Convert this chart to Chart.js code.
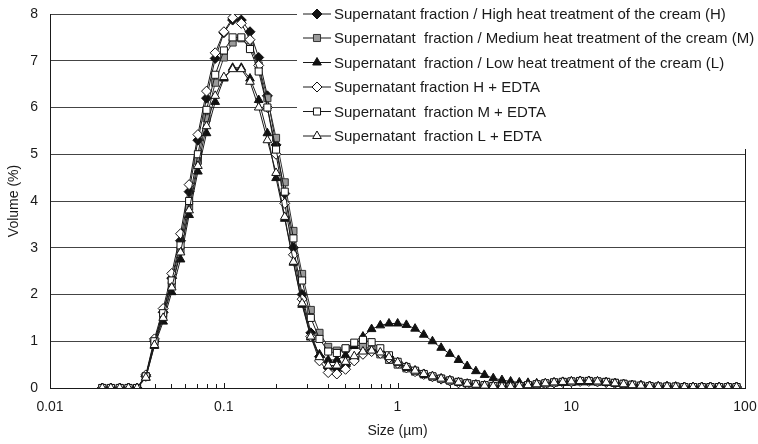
<!DOCTYPE html>
<html>
<head>
<meta charset="utf-8">
<script src="https://cdn.jsdelivr.net/npm/chart.js@4.4.1/dist/chart.umd.min.js"></script>
<style>
  html, body { margin: 0; padding: 0; background: #fff; }
  #wrap { width: 758px; height: 444px; }
</style>
</head>
<body>
<div id="wrap"><canvas id="psd" width="758" height="444"></canvas></div>
<script>
// size classes (µm)
const sizes = [
  0.020, 0.0224, 0.0252, 0.0283, 0.0317, 0.0356, 0.0399, 0.0448, 0.0502, 0.0564,
  0.0632, 0.0710, 0.0796, 0.0893, 0.1002, 0.1125, 0.1262, 0.1416, 0.1589, 0.1783,
  0.200, 0.2244, 0.2518, 0.2825, 0.3170, 0.3557, 0.3991, 0.4477, 0.5024, 0.5637,
  0.6325, 0.7096, 0.7962, 0.8934, 1.002, 1.125, 1.262, 1.416, 1.589, 1.783,
  2.000, 2.244, 2.518, 2.825, 3.170, 3.557, 3.991, 4.477, 5.024, 5.637,
  6.325, 7.096, 7.962, 8.934, 10.02, 11.25, 12.62, 14.16, 15.89, 17.83,
  20.00, 22.44, 25.18, 28.25, 31.70, 35.57, 39.91, 44.77, 50.24, 56.37,
  63.25, 70.96, 79.62, 89.34
];

const names = [
  "Supernatant fraction / High heat treatment of the cream (H)",
  "Supernatant  fraction / Medium heat treatment of the cream (M)",
  "Supernatant  fraction / Low heat treatment of the cream (L)",
  "Supernatant fraction H + EDTA",
  "Supernatant  fraction M + EDTA",
  "Supernatant  fraction L + EDTA"
];

const volH = [
  0, 0, 0, 0, 0, 0.25, 1.0, 1.62, 2.35, 3.15,
  4.2, 5.3, 6.2, 7.05, 7.6, 7.87, 7.87, 7.62, 7.07, 6.25,
  5.2, 4.16, 3.0, 2.0, 1.18, 0.67, 0.43, 0.4, 0.47, 0.62,
  0.74, 0.8, 0.76, 0.66, 0.55, 0.45, 0.37, 0.3, 0.25, 0.2,
  0.16, 0.12, 0.09, 0.07, 0.05, 0.03, 0.02, 0.02, 0.03, 0.05,
  0.07, 0.09, 0.11, 0.13, 0.14, 0.15, 0.15, 0.14, 0.12, 0.1,
  0.08, 0.06, 0.05, 0.04, 0.03, 0.03, 0.03, 0.02, 0.02, 0.02,
  0.02, 0.02, 0.02, 0.02
];
const volM = [
  0, 0, 0, 0, 0, 0.25, 0.95, 1.55, 2.2, 2.95,
  3.88, 4.86, 5.77, 6.53, 7.07, 7.39, 7.48, 7.3, 6.9, 6.2,
  5.35, 4.4, 3.36, 2.44, 1.67, 1.18, 0.88, 0.8, 0.84, 0.92,
  0.9, 0.82, 0.72, 0.6, 0.5, 0.42, 0.35, 0.29, 0.24, 0.2,
  0.16, 0.13, 0.1, 0.08, 0.06, 0.04, 0.03, 0.03, 0.04, 0.06,
  0.08, 0.1, 0.12, 0.13, 0.14, 0.15, 0.15, 0.14, 0.13, 0.11,
  0.09, 0.07, 0.05, 0.04, 0.03, 0.03, 0.03, 0.02, 0.02, 0.02,
  0.02, 0.02, 0.02, 0.02
];
const volL = [
  0, 0, 0, 0, 0, 0.22, 0.9, 1.42, 2.05, 2.75,
  3.7, 4.63, 5.45, 6.12, 6.62, 6.85, 6.85, 6.62, 6.16, 5.45,
  4.49, 3.62, 2.68, 1.78, 1.08, 0.72, 0.6, 0.6, 0.7, 0.9,
  1.1, 1.26, 1.34, 1.38, 1.38, 1.35, 1.27, 1.14, 1.0, 0.86,
  0.73, 0.6, 0.47, 0.36, 0.28, 0.21, 0.17, 0.14, 0.12, 0.11,
  0.1, 0.1, 0.1, 0.11, 0.11, 0.12, 0.12, 0.12, 0.11, 0.1,
  0.08, 0.06, 0.05, 0.04, 0.03, 0.03, 0.02, 0.02, 0.02, 0.02,
  0.02, 0.02, 0.02, 0.02
];
const volHE = [
  0, 0, 0, 0, 0, 0.28, 1.05, 1.7, 2.45, 3.3,
  4.35, 5.42, 6.35, 7.17, 7.62, 7.92, 7.8, 7.45, 6.9, 6.0,
  5.0, 3.95, 2.85, 1.9, 1.1, 0.58, 0.33, 0.3, 0.4, 0.58,
  0.72, 0.78, 0.74, 0.64, 0.53, 0.43, 0.35, 0.29, 0.24, 0.19,
  0.15, 0.11, 0.08, 0.06, 0.04, 0.03, 0.02, 0.02, 0.03, 0.05,
  0.07, 0.09, 0.11, 0.12, 0.13, 0.14, 0.14, 0.13, 0.12, 0.1,
  0.08, 0.06, 0.05, 0.04, 0.03, 0.03, 0.02, 0.02, 0.02, 0.02,
  0.02, 0.02, 0.02, 0.02
];
const volME = [
  0, 0, 0, 0, 0, 0.25, 1.0, 1.6, 2.3, 3.05,
  4.0, 5.0, 5.95, 6.7, 7.22, 7.5, 7.5, 7.25, 6.77, 6.0,
  5.1, 4.2, 3.2, 2.3, 1.5, 1.05, 0.78, 0.75, 0.85, 0.97,
  1.03, 0.98, 0.85, 0.7, 0.56, 0.45, 0.37, 0.3, 0.25, 0.2,
  0.16, 0.13, 0.1, 0.08, 0.06, 0.04, 0.03, 0.03, 0.04, 0.06,
  0.08, 0.1, 0.12, 0.13, 0.14, 0.15, 0.15, 0.14, 0.13, 0.11,
  0.09, 0.07, 0.05, 0.04, 0.03, 0.03, 0.03, 0.02, 0.02, 0.02,
  0.02, 0.02, 0.02, 0.02
];
const volLE = [
  0, 0, 0, 0, 0, 0.22, 0.92, 1.5, 2.15, 2.9,
  3.8, 4.75, 5.6, 6.25, 6.65, 6.82, 6.82, 6.55, 6.0, 5.3,
  4.6, 3.66, 2.7, 1.81, 1.1, 0.66, 0.48, 0.48, 0.56, 0.68,
  0.78, 0.8, 0.76, 0.66, 0.55, 0.45, 0.37, 0.3, 0.25, 0.2,
  0.16, 0.12, 0.09, 0.07, 0.05, 0.04, 0.03, 0.03, 0.04, 0.06,
  0.08, 0.1, 0.12, 0.13, 0.14, 0.15, 0.15, 0.14, 0.12, 0.1,
  0.08, 0.06, 0.05, 0.04, 0.03, 0.03, 0.02, 0.02, 0.02, 0.02,
  0.02, 0.02, 0.02, 0.02
];

const xTicks = [0.01, 0.1, 1, 10, 100];
const yTicks = [0, 1, 2, 3, 4, 5, 6, 7, 8];

const series = [volH, volM, volL, volHE, volME, volLE];
const markers = [
  { style: "rectRot", fill: "#111", border: "#111" },
  { style: "rect", fill: "#9a9a9a", border: "#333" },
  { style: "triangle", fill: "#111", border: "#111" },
  { style: "rectRot", fill: "#fff", border: "#111" },
  { style: "rect", fill: "#fff", border: "#111" },
  { style: "triangle", fill: "#fff", border: "#111" }
];

const FONT = "'Liberation Sans', Arial, sans-serif";
const INK = "#1a1a1a";

// minor ticks, right border, legend box
const extras = {
  id: "extras",
  beforeDatasetsDraw(chart) {
    const { ctx, chartArea: a, scales: { x } } = chart;
    ctx.save();
    ctx.strokeStyle = INK;
    ctx.lineWidth = 1;
    ctx.beginPath();
    for (let d = 0; d < xTicks.length - 1; d++) {
      for (let k = 1; k <= 9; k++) {
        const px = Math.round(x.getPixelForValue(xTicks[d] * k)) + 0.5;
        ctx.moveTo(px, a.bottom);
        ctx.lineTo(px, a.bottom - (k === 1 ? 5 : 4));
      }
    }
    const rx = Math.round(a.right) + 0.5;
    ctx.moveTo(rx, a.top);
    ctx.lineTo(rx, a.bottom);
    ctx.stroke();
    ctx.restore();
  },
  afterDraw(chart) {
    const { ctx } = chart;
    ctx.save();
    ctx.fillStyle = "#fff";
    ctx.fillRect(297, 0, 461, 149);
    const rowY = [14, 38, 62.5, 87, 111.5, 136];
    ctx.font = "15px " + FONT;
    ctx.textBaseline = "middle";
    names.forEach((n, i) => {
      const y = rowY[i];
      const m = markers[i];
      ctx.strokeStyle = INK;
      ctx.lineWidth = 1;
      ctx.beginPath();
      ctx.moveTo(303, y);
      ctx.lineTo(331, y);
      ctx.stroke();
      ctx.fillStyle = m.fill;
      ctx.strokeStyle = m.border;
      Chart.helpers.drawPoint(ctx, { pointStyle: m.style, radius: 5, borderWidth: 1, rotation: 0 }, 317, y);
      ctx.fillStyle = INK;
      ctx.fillText(n, 334, y + 1);
    });
    ctx.restore();
  }
};

const datasets = series.map((vals, i) => ({
  label: names[i],
  data: sizes.map((s, j) => ({ x: s, y: vals[j] })),
  borderColor: i === 1 ? "#333" : INK,
  borderWidth: 1,
  pointStyle: markers[i].style,
  pointRadius: 5,
  pointBackgroundColor: markers[i].fill,
  pointBorderColor: markers[i].border,
  pointBorderWidth: 1,
  showLine: true,
  tension: 0,
  order: series.length - i
}));

new Chart(document.getElementById("psd"), {
  type: "scatter",
  data: { datasets },
  options: {
    responsive: false,
    animation: false,
    devicePixelRatio: 1,
    layout: { padding: { top: 14, right: 13, left: 0, bottom: 0 } },
    plugins: { legend: { display: false }, tooltip: { enabled: false } },
    scales: {
      x: {
        type: "logarithmic",
        min: xTicks[0],
        max: xTicks[xTicks.length - 1],
        afterFit: s => { s.height = 56; s.paddingLeft = 0; s.paddingRight = 0; },
        afterBuildTicks: s => { s.ticks = xTicks.map(v => ({ value: v })); },
        grid: { display: false, drawTicks: false },
        border: { display: true, color: INK, width: 1 },
        ticks: {
          padding: 11,
          color: INK,
          font: { family: FONT, size: 14 },
          autoSkip: false,
          maxRotation: 0,
          callback: v => String(v)
        },
        title: {
          display: true,
          text: "Size (µm)",
          color: INK,
          font: { family: FONT, size: 14 },
          padding: { top: 0, bottom: 4 }
        }
      },
      y: {
        min: yTicks[0],
        max: yTicks[yTicks.length - 1],
        afterFit: s => { s.width = 50; s.paddingTop = 0; s.paddingBottom = 0; },
        afterBuildTicks: s => { s.ticks = yTicks.map(v => ({ value: v })); },
        grid: { color: "#444", lineWidth: 1, drawTicks: false },
        border: { display: true, color: INK, width: 1 },
        ticks: {
          padding: 12,
          color: INK,
          font: { family: FONT, size: 14 }
        },
        title: {
          display: true,
          text: "Volume (%)",
          color: INK,
          font: { family: FONT, size: 14 },
          padding: { top: 6, bottom: 0 }
        }
      }
    }
  },
  plugins: [extras]
});
</script>
</body>
</html>
